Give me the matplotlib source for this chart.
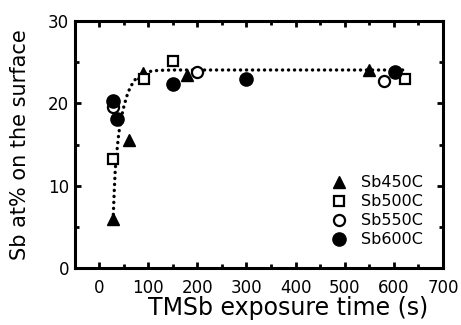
import matplotlib
matplotlib.use("Agg")
import matplotlib.pyplot as plt
from matplotlib.ticker import MultipleLocator

plt.rcParams['font.family'] = ['DejaVu Sans']

# Data
sb450_x = [29, 60, 90, 178, 550]
sb450_y = [5.9, 15.6, 23.7, 23.4, 24.1]
sb500_x = [29, 92, 151, 623]
sb500_y = [13.2, 22.9, 25.1, 22.9]
sb550_x = [29, 200, 580]
sb550_y = [19.5, 23.8, 22.7]
sb600_x = [29, 36, 151, 300, 603]
sb600_y = [20.3, 18.1, 22.3, 22.9, 23.8]

fit_x = [29, 31, 33, 36, 40, 45, 50, 56, 63, 72, 85, 100, 120, 150, 625]
fit_y = [6.5, 9.5, 12, 14, 16.3, 18.2, 19.5, 20.8, 21.9, 22.8, 23.5, 23.85, 24.0, 24.05, 24.05]

x_ticks = [0, 100, 200, 300, 400, 500, 600, 700]
y_ticks = [0, 10, 20, 30]

W, H = 461, 325
fig = plt.figure(figsize=(W / 100, H / 100), dpi=100)
ax = fig.add_axes([74.5 / W, 1 - 268 / H, (443 - 74.5) / W, (268 - 21) / H])

ax.plot(fit_x, fit_y, color='black', lw=2.4, dashes=(0.05, 1.75),
        dash_capstyle='round', zorder=1)

ax.plot(sb450_x, sb450_y, ls='none', marker='^', ms=8, color='black',
        label='Sb450C', zorder=3)
ax.plot(sb500_x, sb500_y, ls='none', marker='s', ms=7, mfc='white',
        mec='black', mew=1.6, label='Sb500C', zorder=3)
ax.plot(sb550_x, sb550_y, ls='none', marker='o', ms=8, mfc='white',
        mec='black', mew=1.6, label='Sb550C', zorder=3)
ax.plot(sb600_x, sb600_y, ls='none', marker='o', ms=9.5, color='black',
        label='Sb600C', zorder=3)

ax.set_xlim(-50, 700)
ax.set_ylim(0, 30)
ax.set_xticks(x_ticks)
ax.set_yticks(y_ticks)
ax.xaxis.set_minor_locator(MultipleLocator(50))
ax.yaxis.set_minor_locator(MultipleLocator(5))

for s in ax.spines.values():
    s.set_linewidth(2.2)

ax.tick_params(which='both', direction='in', top=True, right=True,
               width=2.0, colors='black')
ax.tick_params(which='major', length=4.5, labelsize=12)
ax.tick_params(axis='x', which='major', pad=8)
ax.tick_params(axis='y', which='major', pad=4)
ax.tick_params(which='minor', length=3)

ax.set_xlabel('TMSb exposure time (s)', fontsize=17)
ax.set_ylabel('Sb at% on the surface', fontsize=15)
ax.xaxis.set_label_coords(288 / W, 1 - 308 / H, transform=fig.transFigure)
ax.xaxis.label.set_va('center')
ax.yaxis.set_label_coords(20 / W, 1 - 145 / H, transform=fig.transFigure)
ax.yaxis.label.set_va('center')

leg = ax.legend(loc='center', bbox_to_anchor=(0.82, 0.229), frameon=False,
                fontsize=11.5, handlelength=1.0, handletextpad=0.9,
                labelspacing=0.25, borderpad=0)

fig.savefig('out.png', dpi=100)
